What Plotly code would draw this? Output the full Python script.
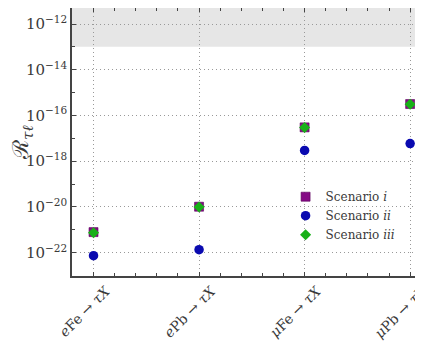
import plotly.graph_objects as go

categories = ["<i>e</i>Fe → <i>τX</i>", "<i>e</i>Pb → <i>τX</i>",
              "<i>μ</i>Fe → <i>τX</i>", "<i>μ</i>Pb → <i>τX</i>"]
cat_pos = [0, 1, 2, 3]
scenario_i = [10**-21.10, 10**-19.99, 10**-16.52, 10**-15.50]
scenario_ii = [10**-22.13, 10**-21.87, 10**-17.53, 10**-17.23]
scenario_iii = [10**-21.13, 10**-20.00, 10**-16.53, 10**-15.51]
ytick_exps = [-22, -20, -18, -16, -14, -12]
yminor_exps = [-23, -21, -19, -17, -15, -13, -11]
excluded_bound = 1e-13

FONT = "DejaVu Serif"
TXT = "#3a3a3a"

fig = go.Figure()
fig.add_trace(go.Scatter(x=cat_pos, y=scenario_i, mode="markers", name="Scenario <i>i</i>",
                         marker=dict(symbol="square", size=9, color="#850a85",
                                     line=dict(color="#5a005a", width=0.6))))
fig.add_trace(go.Scatter(x=cat_pos, y=scenario_ii, mode="markers", name="Scenario <i>ii</i>",
                         marker=dict(symbol="circle", size=9.5, color="#0a0ab0",
                                     line=dict(width=0))))
fig.add_trace(go.Scatter(x=cat_pos, y=scenario_iii, mode="markers", name="Scenario <i>iii</i>",
                         marker=dict(symbol="diamond", size=8.5, color="#18b018",
                                     line=dict(width=0))))

fig.add_shape(type="rect", xref="paper", yref="y", x0=0, x1=1, y0=excluded_bound, y1=1e-8,
              fillcolor="#e6e6e6", line=dict(width=0), layer="below")

axis_common = dict(showline=True, linecolor="#444", linewidth=1.6, mirror="ticks",
                   ticks="inside", tickcolor="#444", ticklen=4, tickwidth=1,
                   showgrid=True, gridcolor="#999999", griddash="1px,3px", gridwidth=1,
                   zeroline=False, automargin=False)

fig.update_xaxes(**axis_common, range=[-0.204, 3.103], tickvals=cat_pos, ticktext=categories,
                 tickangle=-45, tickfont=dict(family=FONT, size=14, color=TXT),
                 ticklabelshift=12, ticklabeloverflow="allow",
                 minor=dict(ticks="inside", dtick=0.2, ticklen=3, tickcolor="#444", showgrid=False))
fig.update_yaxes(**axis_common, type="log", range=[-23.02, -11.30],
                 tickvals=[10.0**e for e in ytick_exps],
                 ticktext=["10<sup>−%d</sup>" % (-e) for e in ytick_exps],
                 tickfont=dict(family=FONT, size=15, color=TXT),
                 minor=dict(ticks="inside", tickvals=[10.0**e for e in yminor_exps], ticklen=3,
                            tickcolor="#444", showgrid=False),
                 title=dict(text="ℛ<sub><i>τℓ</i></sub>", font=dict(family=FONT, size=22, color=TXT),
                            standoff=4))

# page body has an 8px default margin, so the figure is shifted by 8px
fig.update_layout(width=415, height=337, margin=dict(l=64, r=2, t=0, b=69, autoexpand=False),
                  paper_bgcolor="white", plot_bgcolor="white",
                  font=dict(family=FONT, color=TXT),
                  legend=dict(x=0.612, y=0.35, xanchor="left", yanchor="top",
                              bgcolor="rgba(0,0,0,0)", font=dict(family=FONT, size=12, color=TXT),
                              itemwidth=30, tracegroupgap=0))

fig.write_html("out.html")
